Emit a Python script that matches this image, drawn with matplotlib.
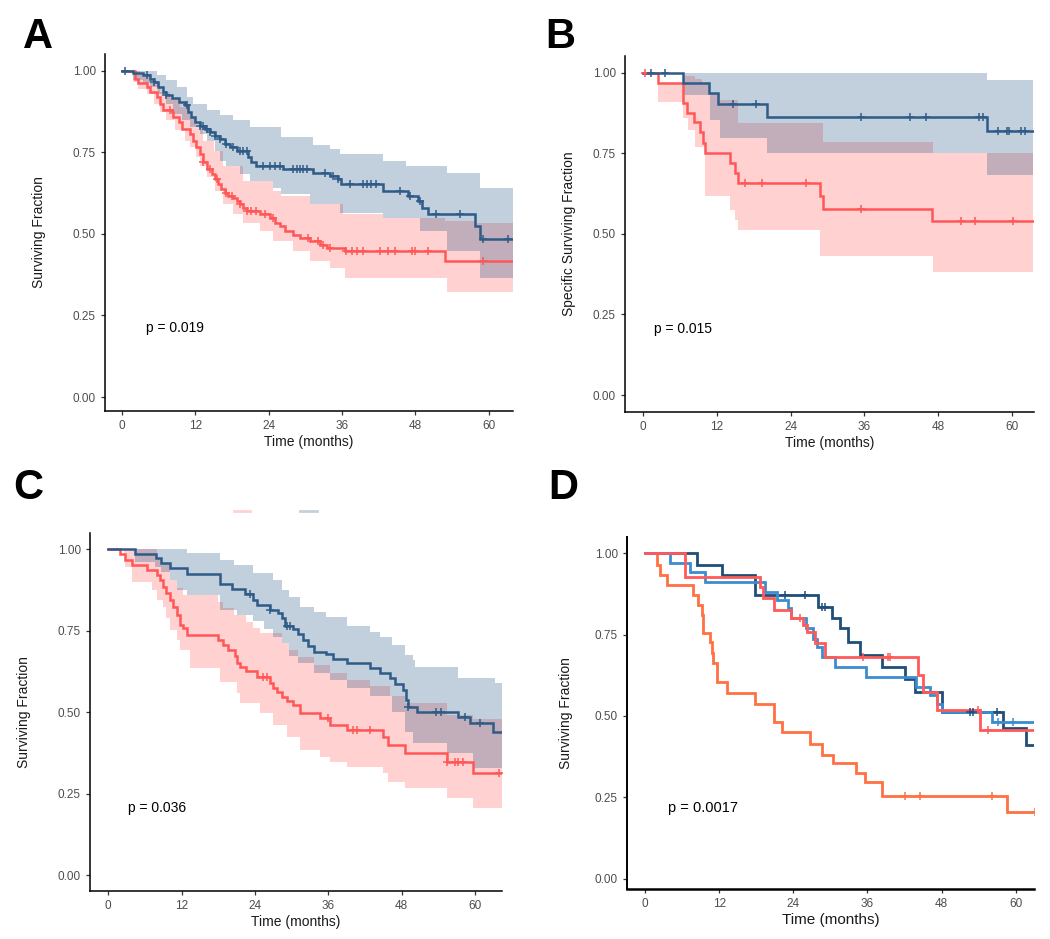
import numpy as np
import matplotlib
matplotlib.use("Agg")
import matplotlib.pyplot as plt
from matplotlib.lines import Line2D

# ---------------- DATA ----------------
# Panel A
A_blue_t = [0, 1.9, 3.5, 4.6, 5.2, 6.0, 6.8, 7.3, 8.2, 9.3, 10.3, 10.9, 11.4, 12.0, 12.8, 13.6, 14.4, 15.2, 16.1, 16.9,
            17.7, 18.8, 20.7, 21.2, 22.0, 26.4, 31.3, 34.0, 35.4, 35.9, 42.7, 46.8, 48.4, 49.0, 50.1, 57.7, 58.5, 64.0]
A_blue_s = [1.0, .992, .987, .976, .966, .951, .935, .925, .915, .904, .894, .873, .858, .843, .832, .822, .812, .801, .791, .776,
            .765, .755, .735, .719, .709, .699, .688, .678, .668, .652, .632, .616, .601, .580, .560, .524, .483, .483]
A_blue_band_t = [0, 1.9, 3.5, 4.6, 5.7, 6.0, 7.3, 8.4, 9.0, 9.8, 10.6, 11.2, 11.7, 12.8, 13.9, 15.2, 16.1, 17.1, 18.2, 19.3,
                 21.0, 24.8, 26.1, 30.8, 31.3, 34.0, 35.7, 42.7, 46.5, 48.7, 53.1, 58.5, 64.0]
A_blue_up = [1, 1, 1, 1, .987, .987, .971, .971, .951, .951, .920, .920, .899, .899, .879, .879, .863, .863, .848, .848,
             .827, .827, .796, .796, .771, .760, .745, .724, .709, .709, .688, .642, .642]
A_blue_lo = [1, .971, .961, .951, .951, .930, .899, .868, .868, .848, .848, .827, .827, .807, .786, .755, .724, .709, .709, .683,
             .663, .642, .621, .591, .591, .591, .565, .549, .549, .508, .447, .365, .365]
A_blue_cens = [0.5, 4.1, 5.2, 7.3, 10.6, 12.8, 13.3, 13.9, 14.4, 15.2, 16.1, 17.1, 18.2, 19.3, 19.9, 20.4, 23.1, 24.2, 25.0,
               25.9, 28.0, 28.6, 29.1, 29.7, 30.2, 33.2, 34.6, 35.4, 37.3, 39.5, 40.0, 40.8, 41.6, 45.5, 47.1, 48.7, 51.4,
               55.3, 59.1, 63.1]
A_red_t = [0, 2.2, 2.7, 4.1, 4.6, 5.7, 6.3, 6.8, 8.2, 8.4, 9.3, 9.8, 11.2, 11.7, 12.2, 12.8, 13.3, 13.9, 14.7, 15.2,
           15.8, 16.3, 16.9, 17.4, 18.2, 18.8, 19.3, 19.9, 20.4, 22.6, 24.2, 25.0, 25.9, 26.7, 28.0, 29.1, 30.8, 32.4,
           33.5, 36.5, 52.8, 64.0]
A_red_s = [1.0, .976, .961, .951, .935, .920, .899, .879, .873, .858, .843, .822, .807, .786, .765, .745, .719, .698, .683, .667,
           .652, .636, .626, .616, .611, .601, .591, .580, .570, .560, .549, .534, .524, .508, .498, .488, .477, .467,
           .457, .447, .416, .416]
A_red_band_t = [0, 1.9, 2.7, 3.0, 4.1, 4.6, 5.2, 6.3, 7.3, 7.9, 8.7, 9.5, 10.3, 11.2, 12.2, 12.8, 13.3, 13.9, 15.0, 15.2,
                16.6, 18.2, 19.9, 22.6, 24.8, 26.1, 28.0, 30.8, 34.0, 36.2, 36.5, 42.7, 52.8, 53.1, 57.7, 64.0]
A_red_up = [1, 1, 1, .987, .987, .961, .961, .935, .935, .915, .915, .889, .889, .858, .827, .827, .786, .786, .755, .755,
            .709, .709, .663, .663, .632, .616, .616, .591, .591, .560, .560, .549, .539, .539, .534, .534]
A_red_lo = [1, .966, .945, .945, .930, .930, .899, .873, .848, .848, .817, .817, .786, .765, .735, .709, .709, .673, .673, .632,
            .591, .560, .534, .508, .477, .477, .447, .416, .395, .395, .365, .365, .365, .323, .323, .323]
A_red_cens = [7.9, 13.3, 14.4, 15.5, 17.1, 18.0, 19.3, 20.4, 21.2, 22.0, 23.4, 24.8, 30.5, 32.1, 32.9, 34.0, 36.7, 37.6,
              38.4, 39.5, 42.2, 43.5, 44.6, 47.4, 47.9, 50.1, 59.1]

# Panel B
B_blue_t = [0, 6.5, 10.7, 12.2, 20.1, 55.9, 63.4]
B_blue_s = [1.0, .967, .936, .902, .864, .820, .820]
B_blue_band_t = [0, 6.5, 10.8, 12.5, 20.1, 55.9, 63.4]
B_blue_up = [1, 1, 1, 1, 1, .977, .977]
B_blue_lo = [1, .93, .853, .796, .75, .683, .683]
B_blue_cens = [1.2, 3.5, 14.6, 18.4, 35.5, 43.4, 46.1, 54.7, 55.4, 57.8, 59.2, 59.6, 61.5, 62.2]
B_red_t = [0, 2.4, 6.5, 7.1, 8.2, 9.2, 9.8, 10.1, 14.1, 14.9, 15.4, 28.8, 29.3, 47.0, 63.4]
B_red_s = [1.0, .967, .905, .874, .848, .817, .781, .750, .720, .689, .658, .617, .578, .540, .540]
B_red_band_t = [0, 2.4, 6.5, 7.3, 8.4, 9.5, 10.0, 10.8, 12.5, 14.1, 14.9, 15.5, 28.7, 29.3, 47.2, 63.4]
B_red_up = [1, .967, .99, .99, .982, .967, .967, .936, .915, .915, .915, .843, .843, .786, .75, .75]
B_red_lo = [1, .91, .858, .822, .77, .77, .616, .616, .616, .574, .543, .512, .43, .43, .383, .383]
B_red_cens = [0.3, 16.5, 19.4, 26.5, 35.5, 51.8, 54.1, 60.2]

# Panel C
C_blue_t = [0, 4.4, 7.8, 8.7, 10.1, 12.8, 18.2, 20.3, 22.4, 23.7, 24.3, 26.5, 27.8, 28.5, 28.9, 30.3, 31.1, 31.9, 32.7, 33.6,
            35.7, 36.8, 39.0, 42.8, 44.5, 46.1, 46.9, 48.3, 48.7, 49.1, 50.5, 57.3, 59.2, 63.0, 64.4]
C_blue_s = [1.0, .986, .972, .957, .942, .924, .894, .877, .862, .845, .829, .814, .804, .788, .763, .755, .740, .722, .703, .686,
            .679, .663, .650, .635, .620, .605, .587, .569, .538, .517, .501, .486, .466, .440, .440]
C_blue_band_t = [0, 4.4, 7.6, 8.7, 10.1, 11.2, 12.8, 18.3, 20.5, 21.0, 23.7, 25.5, 27.0, 28.4, 29.5, 31.1, 31.4, 33.6, 35.7, 36.3,
                 39.0, 42.8, 44.5, 46.4, 48.6, 49.9, 50.2, 55.4, 57.3, 59.7, 63.3, 64.4]
C_blue_up = [1, 1, 1, 1, 1, 1, .99, .967, .952, .952, .926, .926, .906, .875, .855, .855, .824, .809, .793, .793,
             .763, .747, .732, .707, .676, .661, .640, .640, .604, .604, .589, .589]
C_blue_lo = [1, .962, .947, .931, .906, .875, .86, .814, .814, .799, .78, .755, .73, .712, .671, .650, .650, .620, .620, .599,
             .575, .55, .55, .50, .44, .405, .405, .374, .374, .328, .328, .328]
C_blue_cens = [23.2, 26.5, 29.2, 29.7, 49.1, 53.7, 54.4, 58.4, 60.8]
C_red_t = [0, 1.9, 2.7, 3.8, 6.3, 7.9, 8.5, 9.0, 9.5, 10.1, 10.6, 11.2, 11.7, 12.3, 12.8, 18.0, 18.8, 19.6, 20.7, 21.0,
           21.5, 22.6, 24.3, 26.5, 27.0, 27.6, 28.4, 29.2, 30.3, 31.4, 34.6, 36.3, 39.0, 45.0, 45.8, 48.6, 55.4, 59.7, 64.4]
C_red_s = [1.0, .986, .967, .952, .937, .921, .906, .885, .865, .845, .824, .799, .768, .758, .737, .722, .707, .691, .673, .650,
           .640, .625, .609, .589, .574, .563, .548, .533, .522, .496, .481, .461, .445, .425, .400, .374, .348, .312, .312]
C_red_band_t = [0, 2.5, 2.7, 3.8, 7.1, 7.9, 8.7, 9.0, 9.5, 10.1, 11.2, 11.7, 12.3, 13.4, 18.0, 18.3, 18.8, 20.5, 21.0, 21.5,
                22.6, 23.7, 24.8, 27.0, 28.4, 29.2, 29.5, 31.1, 31.4, 33.6, 34.6, 36.3, 39.0, 42.8, 45.0, 45.8, 46.1, 48.6,
                55.4, 59.7, 64.4]
C_red_up = [1, 1, 1, 1, 1, .972, .957, .957, .957, .906, .88, .88, .86, .86, .839, .839, .819, .799, .799, .799,
            .778, .758, .742, .742, .712, .712, .69, .67, .67, .645, .645, .62, .60, .58, .58, .58, .55, .527,
            .49, .48, .48]
C_red_lo = [1, .978, .947, .901, .875, .845, .845, .824, .788, .753, .722, .691, .691, .635, .635, .594, .594, .594, .558, .528,
            .528, .528, .497, .461, .461, .425, .425, .425, .384, .384, .363, .348, .333, .333, .312, .287, .287, .266,
            .235, .205, .205]
C_red_cens = [25.4, 25.9, 36.0, 40.1, 40.7, 42.8, 55.4, 56.7, 57.3, 58.0, 64.0]

# Panel D
D_dblue_t = [0, 8.4, 12.4, 17.8, 28.0, 30.2, 31.5, 32.9, 34.8, 38.3, 42.0, 43.7, 48.0, 57.9, 61.7, 63.1]
D_dblue_s = [1.0, .964, .933, .872, .836, .800, .769, .728, .687, .651, .615, .574, .513, .462, .410, .410]
D_dblue_cens = [22.6, 25.9, 28.6, 29.1, 52.6, 53.1, 56.9]
D_lblue_t = [0, 4.0, 7.3, 9.7, 19.4, 21.3, 23.2, 23.7, 26.1, 27.2, 27.8, 28.6, 30.7, 35.8, 43.9, 46.1, 47.2, 48.0, 56.1, 63.1]
D_lblue_s = [1.0, .969, .944, .913, .882, .856, .831, .800, .769, .738, .713, .682, .651, .621, .590, .564, .538, .513, .482, .482]
D_lblue_cens = [57.1, 59.6]
D_red_t = [0, 6.5, 18.6, 19.1, 20.8, 23.7, 25.6, 26.2, 27.5, 29.1, 44.2, 45.0, 47.3, 54.2, 63.1]
D_red_s = [1.0, .928, .897, .862, .826, .800, .779, .759, .723, .682, .626, .574, .518, .456, .456]
D_red_cens = [25.0, 35.3, 39.4, 39.7, 53.9, 55.5]
D_orange_t = [0, 1.9, 2.4, 3.5, 7.8, 8.6, 9.2, 9.4, 10.5, 10.8, 11.0, 11.6, 13.2, 17.8, 20.8, 22.1, 26.7, 28.6, 30.5, 34.2,
              35.6, 38.3, 58.5, 63.1]
D_orange_s = [1.0, .964, .933, .903, .872, .841, .810, .754, .728, .692, .662, .605, .569, .538, .482, .451, .415, .379, .354, .323,
              .297, .255, .205, .205]
D_orange_cens = [42.0, 44.5, 56.1, 63.1]

x_ticks = [0, 12, 24, 36, 48, 60]
y_ticks = [0.00, 0.25, 0.50, 0.75, 1.00]
y_ticklabels = ["0.00", "0.25", "0.50", "0.75", "1.00"]
p_values = ["p = 0.019", "p = 0.015", "p = 0.036", "p = 0.0017"]
ylabels = ["Surviving Fraction", "Specific Surviving Fraction", "Surviving Fraction", "Surviving Fraction"]
panel_letters = ["A", "B", "C", "D"]

# ---------------- STYLE ----------------
BLUE = "#2E5B87"
RED = "#FF5757"
D_DBLUE = "#1F4E79"
D_LBLUE = "#3C8DD0"
D_RED = "#FF5A5A"
D_ORANGE = "#FF7043"
FONT = ["Liberation Sans Narrow", "Liberation Sans", "DejaVu Sans"]
plt.rcParams["font.family"] = ["Liberation Sans", "DejaVu Sans"]

W, H = 1050, 939
fig = plt.figure(figsize=(W / 100, H / 100), dpi=100)

# layout in pixels: (left, right, top, bottom, x0px, px_per_month, y1px, y0px)
layouts = [
    (105, 513, 54, 411, 121.7, 6.12, 70.7, 397.0),
    (625, 1034, 56, 412, 643.3, 6.14, 72.7, 395.0),
    (90, 502, 533, 891, 108.3, 6.11, 549.3, 875.0),
    (627, 1034, 537, 889, 645.0, 6.18, 553.3, 878.5),
]
ylabel_pads = [19, 12, 19, 16]


def make_ax(lay):
    l, r, t, b, x0, ppm, y1, y0 = lay
    ax = fig.add_axes([l / W, 1 - b / H, (r - l) / W, (b - t) / H])
    ax.set_xlim((l - x0) / ppm, (r - x0) / ppm)
    ax.set_ylim((y0 - b) / (y0 - y1), (y0 - t) / (y0 - y1))
    for s in ["top", "right"]:
        ax.spines[s].set_visible(False)
    for s in ["left", "bottom"]:
        ax.spines[s].set_linewidth(1.1)
        ax.spines[s].set_color("black")
    ax.set_xticks(x_ticks)
    ax.set_yticks(y_ticks)
    ax.set_yticklabels(y_ticklabels)
    ax.tick_params(axis="both", length=3, width=0.9, color="#333333", labelsize=8.5, labelcolor="#4D4D4D")
    for lab in ax.get_xticklabels() + ax.get_yticklabels():
        lab.set_family(FONT)
    return ax


def surv_at(t, s, x):
    idx = np.searchsorted(np.asarray(t), x, side="right") - 1
    return np.asarray(s)[idx]


def km(ax, t, s, color, lw, cens=None):
    ax.step(t, s, where="post", color=color, lw=lw, solid_joinstyle="miter", zorder=5)
    if cens:
        ax.plot(cens, surv_at(t, s, cens), ls="none", marker="+", ms=6, mew=1.1, color=color, zorder=6)


def band(ax, t, lo, up, color, alpha):
    ax.fill_between(t, lo, up, step="post", color=color, alpha=alpha, lw=0, zorder=2)


axes = [make_ax(l) for l in layouts]

# A
ax = axes[0]
band(ax, A_red_band_t, A_red_lo, A_red_up, RED, 0.27)
band(ax, A_blue_band_t, A_blue_lo, A_blue_up, BLUE, 0.29)
km(ax, A_red_t, A_red_s, RED, 1.8, A_red_cens)
km(ax, A_blue_t, A_blue_s, BLUE, 1.8, A_blue_cens)
# B
ax = axes[1]
band(ax, B_red_band_t, B_red_lo, B_red_up, RED, 0.27)
band(ax, B_blue_band_t, B_blue_lo, B_blue_up, BLUE, 0.29)
km(ax, B_red_t, B_red_s, RED, 1.8, B_red_cens)
km(ax, B_blue_t, B_blue_s, BLUE, 1.8, B_blue_cens)
# C
ax = axes[2]
band(ax, C_red_band_t, C_red_lo, C_red_up, RED, 0.27)
band(ax, C_blue_band_t, C_blue_lo, C_blue_up, BLUE, 0.29)
km(ax, C_red_t, C_red_s, RED, 1.8, C_red_cens)
km(ax, C_blue_t, C_blue_s, BLUE, 1.8, C_blue_cens)
# D
ax = axes[3]
km(ax, D_orange_t, D_orange_s, D_ORANGE, 2.0, D_orange_cens)
km(ax, D_dblue_t, D_dblue_s, D_DBLUE, 2.0, D_dblue_cens)
km(ax, D_lblue_t, D_lblue_s, D_LBLUE, 2.0, D_lblue_cens)
km(ax, D_red_t, D_red_s, D_RED, 2.0, D_red_cens)
ax.spines["bottom"].set_linewidth(1.8)
ax.spines["left"].set_linewidth(1.4)

p_pos = [(8.7, 0.21), (6.5, 0.206), (8.0, 0.206), (9.4, 0.216)]
for i, ax in enumerate(axes):
    ax.text(p_pos[i][0], p_pos[i][1], p_values[i], ha="center", va="center",
            fontsize=10.5 if i == 3 else 10, color="black", family=FONT[1:])
    ax.set_ylabel(ylabels[i], fontsize=10, color="#1a1a1a", labelpad=ylabel_pads[i])
    ax.set_xlabel("Time (months)", fontsize=11 if i == 3 else 10, color="#1a1a1a", labelpad=2)

letter_pos = [(38, 37), (560, 37), (28, 488), (563, 488)]
for L, (x, y) in zip(panel_letters, letter_pos):
    fig.text(x / W, 1 - y / H, L, ha="center", va="center", fontsize=30, fontweight="bold",
             family=FONT, color="black")

# faint legend remnants above panel C
fig.add_artist(Line2D([234 / W, 250 / W], [1 - 511 / H, 1 - 511 / H], color="#FFD1D1", lw=2))
fig.add_artist(Line2D([300 / W, 317 / W], [1 - 511 / H, 1 - 511 / H], color="#C3D1DE", lw=2))

fig.savefig("out.png", dpi=100)
